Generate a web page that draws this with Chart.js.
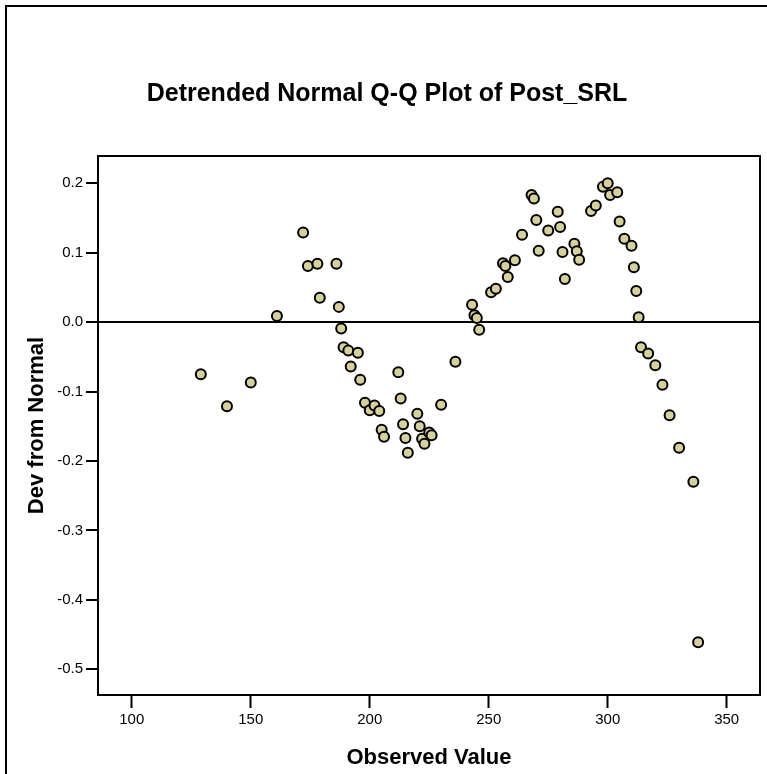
<!DOCTYPE html>
<html>
<head>
<meta charset="utf-8">
<script src="https://cdn.jsdelivr.net/npm/chart.js@4"></script>
<style>
    html, body { margin: 0; padding: 0; background: #fff; }
    #wrap { width: 767px; height: 774px; position: relative; }
</style>
</head>
<body>
<div id="wrap"><canvas id="qq-chart"></canvas></div>
<script>
const observed = [129, 140, 150, 161, 172, 174, 178, 179, 186, 187, 188, 189, 191, 192, 195, 196,
    198, 200, 202, 204, 205, 206, 212, 213, 214, 215, 216, 220, 221, 222, 223, 225, 226, 230,
    236, 243, 244, 245, 246, 251, 253, 256, 257, 258, 261, 264, 268, 269, 270, 271, 275, 279,
    280, 281, 282, 286, 287, 288, 293, 295, 298, 300, 301, 304, 305, 307, 310, 311, 312, 313,
    314, 317, 320, 323, 326, 330, 336, 338];
const devFromNormal = [-0.075, -0.121, -0.087, 0.009, 0.129, 0.081, 0.084, 0.035, 0.084, 0.022,
    -0.009, -0.036, -0.041, -0.064, -0.044, -0.083, -0.116, -0.127, -0.120, -0.128, -0.155, -0.165,
    -0.072, -0.110, -0.147, -0.167, -0.188, -0.132, -0.150, -0.168, -0.175, -0.159, -0.163, -0.119,
    -0.057, 0.025, 0.010, 0.006, -0.011, 0.043, 0.048, 0.085, 0.081, 0.065, 0.089, 0.126, 0.183,
    0.178, 0.147, 0.103, 0.132, 0.159, 0.137, 0.101, 0.062, 0.113, 0.102, 0.090, 0.160, 0.168,
    0.195, 0.200, 0.183, 0.187, 0.145, 0.120, 0.110, 0.079, 0.045, 0.007, -0.036, -0.045, -0.062,
    -0.090, -0.134, -0.181, -0.230, -0.461];
const xTicks = [100, 150, 200, 250, 300, 350];
const yTicks = [-0.5, -0.4, -0.3, -0.2, -0.1, 0.0, 0.1, 0.2];

const FONT = "'Liberation Sans', Arial, Helvetica, sans-serif";

// box around the plot area plus the outer frame of the picture
const framePlugin = {
    id: 'frame',
    afterDraw(chart) {
        const {ctx, chartArea: a} = chart;
        ctx.save();
        ctx.strokeStyle = '#000';
        ctx.lineWidth = 2;
        ctx.strokeRect(a.left, a.top, a.right - a.left, a.bottom - a.top);
        ctx.beginPath();
        ctx.moveTo(6, chart.height);
        ctx.lineTo(6, 6);
        ctx.lineTo(chart.width, 6);
        ctx.stroke();
        ctx.restore();
    }
};

const ctx = document.getElementById('qq-chart').getContext('2d');
new Chart(ctx, {
    type: 'scatter',
    data: {
        datasets: [{
            label: 'Post_SRL',
            data: observed.map((x, i) => ({x: x, y: devFromNormal[i]})),
            pointRadius: 5,
            pointHoverRadius: 5,
            pointBorderWidth: 2,
            pointBackgroundColor: '#d6cf9e',
            pointBorderColor: '#000'
        }]
    },
    options: {
        responsive: true,
        maintainAspectRatio: false,
        animation: false,
        layout: { padding: { left: 14, right: 7, top: 0, bottom: 0 } },
        plugins: {
            legend: { display: false },
            tooltip: { enabled: false },
            title: {
                display: true,
                text: 'Detrended Normal Q-Q Plot of Post_SRL',
                color: '#000',
                font: { family: FONT, size: 25, weight: 'bold', lineHeight: 1.2 },
                padding: { top: 79, bottom: 47 }
            }
        },
        scales: {
            x: {
                type: 'linear',
                min: 85.8,
                max: 364,
                afterBuildTicks: scale => { scale.ticks = xTicks.map(v => ({value: v})); },
                afterFit: scale => { scale.height = 79; },
                border: { display: true, color: '#000', width: 2 },
                grid: { drawOnChartArea: false, tickLength: 13, tickColor: '#000', tickWidth: 2 },
                ticks: {
                    color: '#000',
                    padding: 3,
                    maxRotation: 0,
                    font: { family: FONT, size: 15 }
                },
                title: {
                    display: true,
                    text: 'Observed Value',
                    color: '#000',
                    font: { family: FONT, size: 22, weight: 'bold', lineHeight: 1.2 },
                    padding: { top: 0, bottom: 3 }
                }
            },
            y: {
                type: 'linear',
                min: -0.537,
                max: 0.2393,
                afterBuildTicks: scale => { scale.ticks = yTicks.map(v => ({value: v})); },
                afterFit: scale => { scale.width = 84; },
                border: { display: true, color: '#000', width: 2 },
                grid: {
                    drawOnChartArea: true,
                    color: c => (c.tick && c.tick.value === 0 ? '#000' : 'rgba(0,0,0,0)'),
                    lineWidth: 2,
                    tickLength: 12,
                    tickColor: '#000',
                    tickWidth: 2
                },
                ticks: {
                    color: '#000',
                    padding: 3,
                    font: { family: FONT, size: 15 },
                    callback: v => Number(v).toFixed(1)
                },
                title: {
                    display: true,
                    text: 'Dev from Normal',
                    color: '#000',
                    font: { family: FONT, size: 22, weight: 'bold', lineHeight: 1.2 },
                    padding: { top: 10, bottom: 0 }
                }
            }
        }
    },
    plugins: [framePlugin]
});
</script>
</body>
</html>
